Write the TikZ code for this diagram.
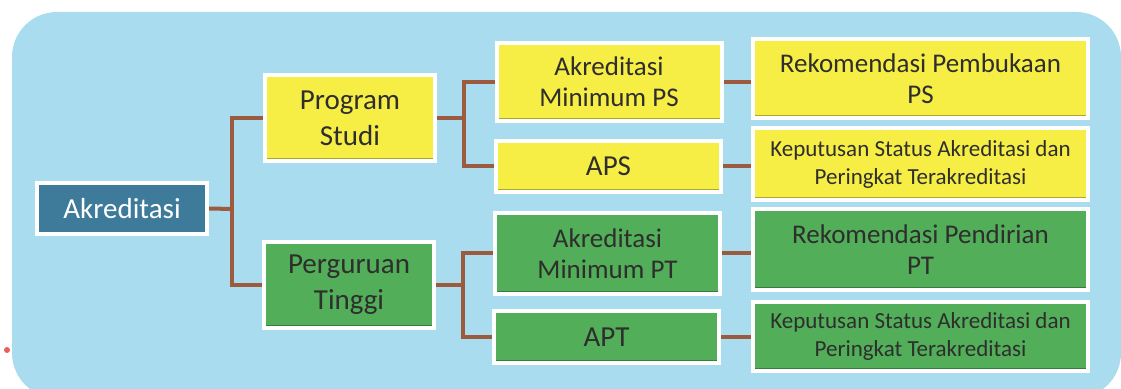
\documentclass[tikz,border=0pt]{standalone}
\usepackage{fontspec}
\setmainfont{Carlito}
\usetikzlibrary{backgrounds}
\definecolor{bgblue}{HTML}{AADCF0}
\definecolor{rootblue}{HTML}{3E7A9A}
\definecolor{boxyellow}{HTML}{F6EE45}
\definecolor{boxgreen}{HTML}{52AE58}
\definecolor{connbrown}{HTML}{9C5B3E}
\definecolor{txt}{HTML}{2E2E2E}
\definecolor{dotred}{HTML}{E8605A}
\newcommand{\fA}{\fontsize{29pt}{36pt}\selectfont}
\newcommand{\fB}{\fontsize{27pt}{31pt}\selectfont}
\newcommand{\fC}{\fontsize{23pt}{28pt}\selectfont}
\tikzset{
  box/.style={draw=white, line width=4pt, inner sep=0pt, align=center, text=txt},
  rootbox/.style={box, fill=rootblue, text=white, minimum width=170pt, minimum height=51pt, font=\fA},
  ybox/.style={box, fill=boxyellow,
    path picture={\draw[line width=1.5pt, boxyellow!70!black] ([yshift=2.5pt]path picture bounding box.south west) -- ([yshift=2.5pt]path picture bounding box.south east);}},
  gbox/.style={box, fill=boxgreen,
    path picture={\draw[line width=1.5pt, boxgreen!70!black] ([yshift=2.5pt]path picture bounding box.south west) -- ([yshift=2.5pt]path picture bounding box.south east);}},
  lone/.style={minimum width=170pt, minimum height=86pt, font=\fA},
  ltwo/.style={minimum width=225pt},
  lthree/.style={minimum width=335pt},
  conn/.style={draw=connbrown, line width=4pt}
}
\begin{document}
\begin{tikzpicture}[x=1pt,y=1pt]
\useasboundingbox (0,0) rectangle (1121,388);
% nodes (tikz y = 388 - image y)
\node[rootbox] (root) at (122,179.5) {Akreditasi};
\node[ybox,lone] (ps) at (350,270) {Program\\Studi};
\node[gbox,lone] (pt) at (349,103) {Perguruan\\Tinggi};
\node[ybox,ltwo,minimum height=78pt,font=\fB] (amps) at (609,306) {Akreditasi\\Minimum PS};
\node[ybox,ltwo,minimum height=51pt,font=\fA] (aps) at (608.5,221.5) {APS};
\node[gbox,ltwo,minimum height=81pt,font=\fB] (ampt) at (607.5,134.5) {Akreditasi\\Minimum PT};
\node[gbox,ltwo,minimum height=52pt,font=\fA] (apt) at (606.5,51) {APT};
\node[ybox,lthree,minimum height=79pt,font=\fB] (rek1) at (920.5,309.5) {Rekomendasi Pembukaan\\PS};
\node[ybox,lthree,minimum height=72pt,font=\fC] (kep1) at (920.5,224) {Keputusan Status Akreditasi dan\\Peringkat Terakreditasi};
\node[gbox,lthree,minimum height=81pt,font=\fB] (rek2) at (920.5,138.5) {Rekomendasi Pendirian\\PT};
\node[gbox,lthree,minimum height=69pt,font=\fC] (kep2) at (920.5,51.5) {Keputusan Status Akreditasi dan\\Peringkat Terakreditasi};
\coordinate (j1) at (232,179);
\coordinate (j2) at (464,269);
\coordinate (j3) at (463,101);
\begin{pgfonlayer}{background}
  \clip (0,0) rectangle (1121,388);
  \fill[bgblue] (12,-10) [rounded corners=45pt] -- (12,376) -- (1121,376) -- (1121,-10) -- cycle;
  \fill[dotred] (7,38) circle (3pt);
  \draw[conn] (root.east) -- (j1);
  \draw[conn] (ps.west) -| (j1) |- (pt.west);
  \draw[conn] (ps.east) -- (ps.east -| j2);
  \draw[conn] (amps.west) -| (j2) |- (aps.west);
  \draw[conn] (pt.east) -- (pt.east -| j3);
  \draw[conn] (ampt.west) -| (j3) |- (apt.west);
  \draw[conn] (amps.east) -- (amps.east -| rek1.west);
  \draw[conn] (aps.east) -- (aps.east -| kep1.west);
  \draw[conn] (ampt.east) -- (ampt.east -| rek2.west);
  \draw[conn] (apt.east) -- (apt.east -| kep2.west);
\end{pgfonlayer}
\end{tikzpicture}
\end{document}
